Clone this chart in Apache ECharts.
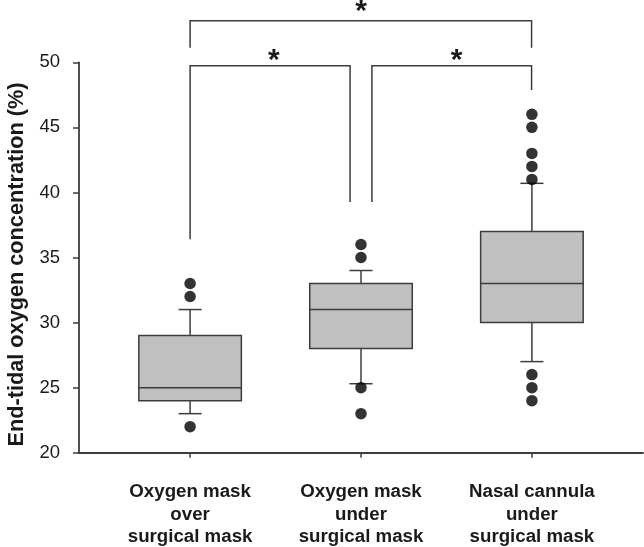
<!DOCTYPE html>
<html>
<head>
<meta charset="utf-8">
<script src="https://cdn.jsdelivr.net/npm/echarts@6/dist/echarts.min.js"></script>
<style>
html,body{margin:0;padding:0;background:#fff;}
#chart{width:644px;height:547px;}
</style>
</head>
<body>
<div id="chart"></div>
<script>
// ---- data ----
var categories = ['Oxygen mask\nover\nsurgical mask', 'Oxygen mask\nunder\nsurgical mask', 'Nasal cannula\nunder\nsurgical mask'];
var positions = [1, 2, 3];
var whiskerLow = [23, 25.3, 27];
var q1 = [24, 28, 30];
var median = [25, 31, 33];
var q3 = [29, 33, 37];
var whiskerHigh = [31, 34, 40.7];
var outliers = [
  [33, 32, 22],
  [36, 35, 25, 23],
  [46, 45, 43, 42, 41, 26, 25, 24]
];
var yTicks = [20, 25, 30, 35, 40, 45, 50];
// significance brackets
var bracketLeft = [1, 2.064, 1];
var bracketRight = [1.936, 2.998, 2.998];
var bracketTop = [49.74, 49.74, 53.2];
var bracketLeftEnd = [36.4, 39.27, 51.12];
var bracketRightEnd = [39.27, 47.87, 51.12];
var starX = [1.49, 2.56, 2.0];
var starY = [48.95, 48.95, 52.72];
var starText = ['*', '*', '*'];

var FONT = '"Liberation Sans", Arial, Helvetica, sans-serif';
var LINE = '#3c3c3c';
var BOX_W = 0.6, CAP_W = 0.135;

var boxData = positions.map(function (p, i) {
  return [p, whiskerLow[i], q1[i], median[i], q3[i], whiskerHigh[i]];
});
var outlierData = [];
outliers.forEach(function (arr, i) {
  arr.forEach(function (v) { outlierData.push([positions[i], v]); });
});
var bracketData = bracketLeft.map(function (l, i) {
  return [l, bracketRight[i], bracketTop[i], bracketLeftEnd[i], bracketRightEnd[i]];
});
var starData = starX.map(function (x, i) { return [x, starY[i], starText[i]]; });

var chart = echarts.init(document.getElementById('chart'), null, {renderer: 'canvas'});
chart.setOption({
  animation: false,
  backgroundColor: '#ffffff',
  grid: {left: 79, right: 1, top: 62.3, bottom: 94.3, containLabel: false, outerBoundsMode: 'none'},
  xAxis: {
    type: 'value', min: 0.35, max: 3.65,
    splitLine: {show: false},
    axisLine: {show: true, onZero: false, lineStyle: {color: LINE, width: 1.8}},
    axisTick: {show: true, length: 5, customValues: positions, lineStyle: {color: LINE, width: 1.5}},
    axisLabel: {
      show: true, customValues: positions, margin: 28,
      formatter: function (v) { return categories[Math.round(v) - 1] || ''; },
      fontFamily: FONT, fontSize: 18.7, fontWeight: 'bold', color: '#1a1a1a', lineHeight: 22.5, align: 'center'
    }
  },
  yAxis: {
    type: 'value', min: 20, max: 50, interval: 5,
    name: 'End-tidal oxygen concentration (%)',
    nameLocation: 'middle', nameGap: 50,
    nameTextStyle: {fontFamily: FONT, fontSize: 21.7, fontWeight: 'bold', color: '#1a1a1a', padding: [0, 14, 0, 0]},
    splitLine: {show: false},
    axisLine: {show: true, lineStyle: {color: LINE, width: 1.8}},
    axisTick: {show: true, length: 6, lineStyle: {color: LINE, width: 1.5}},
    axisLabel: {margin: 19, fontFamily: FONT, fontSize: 18.5, color: '#1a1a1a',
      formatter: function (v) { return yTicks.indexOf(v) >= 0 ? String(v) : ''; }}
  },
  series: [
    {
      type: 'custom', name: 'box', clip: false,
      data: boxData,
      encode: {x: 0, y: [1, 2, 3, 4, 5]},
      renderItem: function (params, api) {
        var x = api.value(0);
        var lo = api.coord([x, api.value(1)]);
        var b1 = api.coord([x, api.value(2)]);
        var md = api.coord([x, api.value(3)]);
        var b3 = api.coord([x, api.value(4)]);
        var hi = api.coord([x, api.value(5)]);
        var halfBox = (api.coord([x + BOX_W / 2, 0])[0] - api.coord([x, 0])[0]);
        var halfCap = (api.coord([x + CAP_W / 2, 0])[0] - api.coord([x, 0])[0]);
        var cx = lo[0];
        var ls = {stroke: LINE, lineWidth: 1.5};
        return {
          type: 'group',
          children: [
            {type: 'line', shape: {x1: cx, y1: hi[1], x2: cx, y2: b3[1]}, style: ls},
            {type: 'line', shape: {x1: cx, y1: b1[1], x2: cx, y2: lo[1]}, style: ls},
            {type: 'line', shape: {x1: cx - halfCap, y1: hi[1], x2: cx + halfCap, y2: hi[1]}, style: ls},
            {type: 'line', shape: {x1: cx - halfCap, y1: lo[1], x2: cx + halfCap, y2: lo[1]}, style: ls},
            {type: 'rect', shape: {x: cx - halfBox, y: b3[1], width: 2 * halfBox, height: b1[1] - b3[1]},
              style: {fill: '#c0c0c0', stroke: LINE, lineWidth: 1.5}},
            {type: 'line', shape: {x1: cx - halfBox, y1: md[1], x2: cx + halfBox, y2: md[1]}, style: ls}
          ]
        };
      },
      z: 2
    },
    {
      type: 'scatter', name: 'outliers', data: outlierData,
      symbol: 'circle', symbolSize: 11.5,
      itemStyle: {color: '#000000'}, z: 3
    },
    {
      type: 'custom', name: 'brackets', clip: false,
      data: bracketData,
      encode: {x: [0, 1], y: [2, 3, 4]},
      renderItem: function (params, api) {
        var tl = api.coord([api.value(0), api.value(2)]);
        var tr = api.coord([api.value(1), api.value(2)]);
        var bl = api.coord([api.value(0), api.value(3)]);
        var br = api.coord([api.value(1), api.value(4)]);
        return {
          type: 'polyline',
          shape: {points: [[bl[0], bl[1]], [tl[0], tl[1]], [tr[0], tr[1]], [br[0], br[1]]]},
          style: {stroke: LINE, lineWidth: 1.5, fill: null}
        };
      }
    },
    {
      type: 'custom', name: 'stars', clip: false,
      data: starData,
      encode: {x: 0, y: 1},
      renderItem: function (params, api) {
        var p = api.coord([api.value(0), api.value(1)]);
        return {
          type: 'text',
          style: {x: p[0], y: p[1], text: starText[params.dataIndex], fill: '#1a1a1a',
            font: 'bold 30px ' + FONT, textAlign: 'center', textVerticalAlign: 'bottom'}
        };
      }
    }
  ]
});
</script>
</body>
</html>
